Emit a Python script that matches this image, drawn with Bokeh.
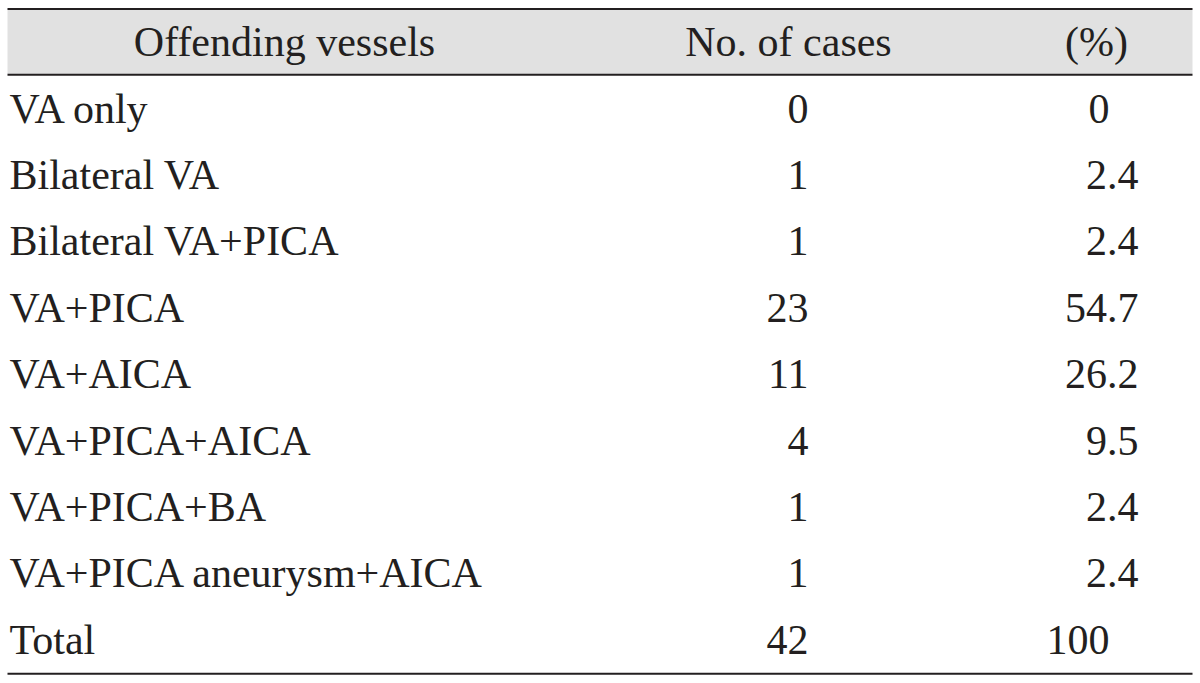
from bokeh.plotting import figure
from bokeh.models import Range1d, ColumnDataSource
from bokeh.core.properties import value
from bokeh.embed import file_html
from bokeh.resources import INLINE

# ---- data ----
headers = ["Offending vessels", "No. of cases", "(%)"]
vessels = ["VA only", "Bilateral VA", "Bilateral VA+PICA", "VA+PICA", "VA+AICA",
           "VA+PICA+AICA", "VA+PICA+BA", "VA+PICA aneurysm+AICA", "Total"]
cases = [0, 1, 1, 23, 11, 4, 1, 1, 42]
percents = ["0", "2.4", "2.4", "54.7", "26.2", "9.5", "2.4", "2.4", "100"]

# ---- layout ----
W, H = 1200, 683
OFF = 8
TW, TH = 1184, 667
FONT = "Liberation Serif"
FS = "42px"
INK = "#231f20"
HEADER_BASE = 33
ROW0 = 100
ROW_STEP = 66.4
COL_LEFT = 1
COL_CASES_RIGHT = 800
PCT_DEC_RIGHT = 1130
PCT_INT_RIGHT = 1101
HEADER_X = [276, 780, 1088]

p = figure(width=W, height=H, output_backend="svg", toolbar_location=None,
           x_range=Range1d(-OFF, W - OFF), y_range=Range1d(H - OFF, -OFF), min_border=0)
p.axis.visible = False
p.grid.visible = False
p.outline_line_color = None
p.background_fill_color = "white"
p.border_fill_color = "white"

# header band
p.quad(left=[-1], right=[TW], top=[1], bottom=[65.5], fill_color="#e1e1e1", line_color=None)
# rules
p.segment(x0=[-1, -1, -1], x1=[TW, TW, TW], y0=[0.6, 66.3, 665.3], y1=[0.6, 66.3, 665.3],
          line_color=INK, line_width=2, line_cap="butt")

# header texts
p.text(x=HEADER_X, y=[HEADER_BASE] * 3, text=headers, text_font=value(FONT),
       text_font_size=FS, text_color=INK, text_align="center", text_baseline="alphabetic")

ys = [ROW0 + i * ROW_STEP for i in range(len(vessels))]

src = ColumnDataSource(dict(
    y=ys,
    vessel=vessels,
    cases=[str(c) for c in cases],
    pct=percents,
    px=[PCT_DEC_RIGHT if "." in s else PCT_INT_RIGHT for s in percents],
))

p.text(x=COL_LEFT, y="y", text="vessel", source=src, text_font=value(FONT),
       text_font_size=FS, text_color=INK, text_align="left", text_baseline="alphabetic")
p.text(x=COL_CASES_RIGHT, y="y", text="cases", source=src, text_font=value(FONT),
       text_font_size=FS, text_color=INK, text_align="right", text_baseline="alphabetic")
p.text(x="px", y="y", text="pct", source=src, text_font=value(FONT),
       text_font_size=FS, text_color=INK, text_align="right", text_baseline="alphabetic")

open("out.html", "w").write(file_html(p, INLINE))
